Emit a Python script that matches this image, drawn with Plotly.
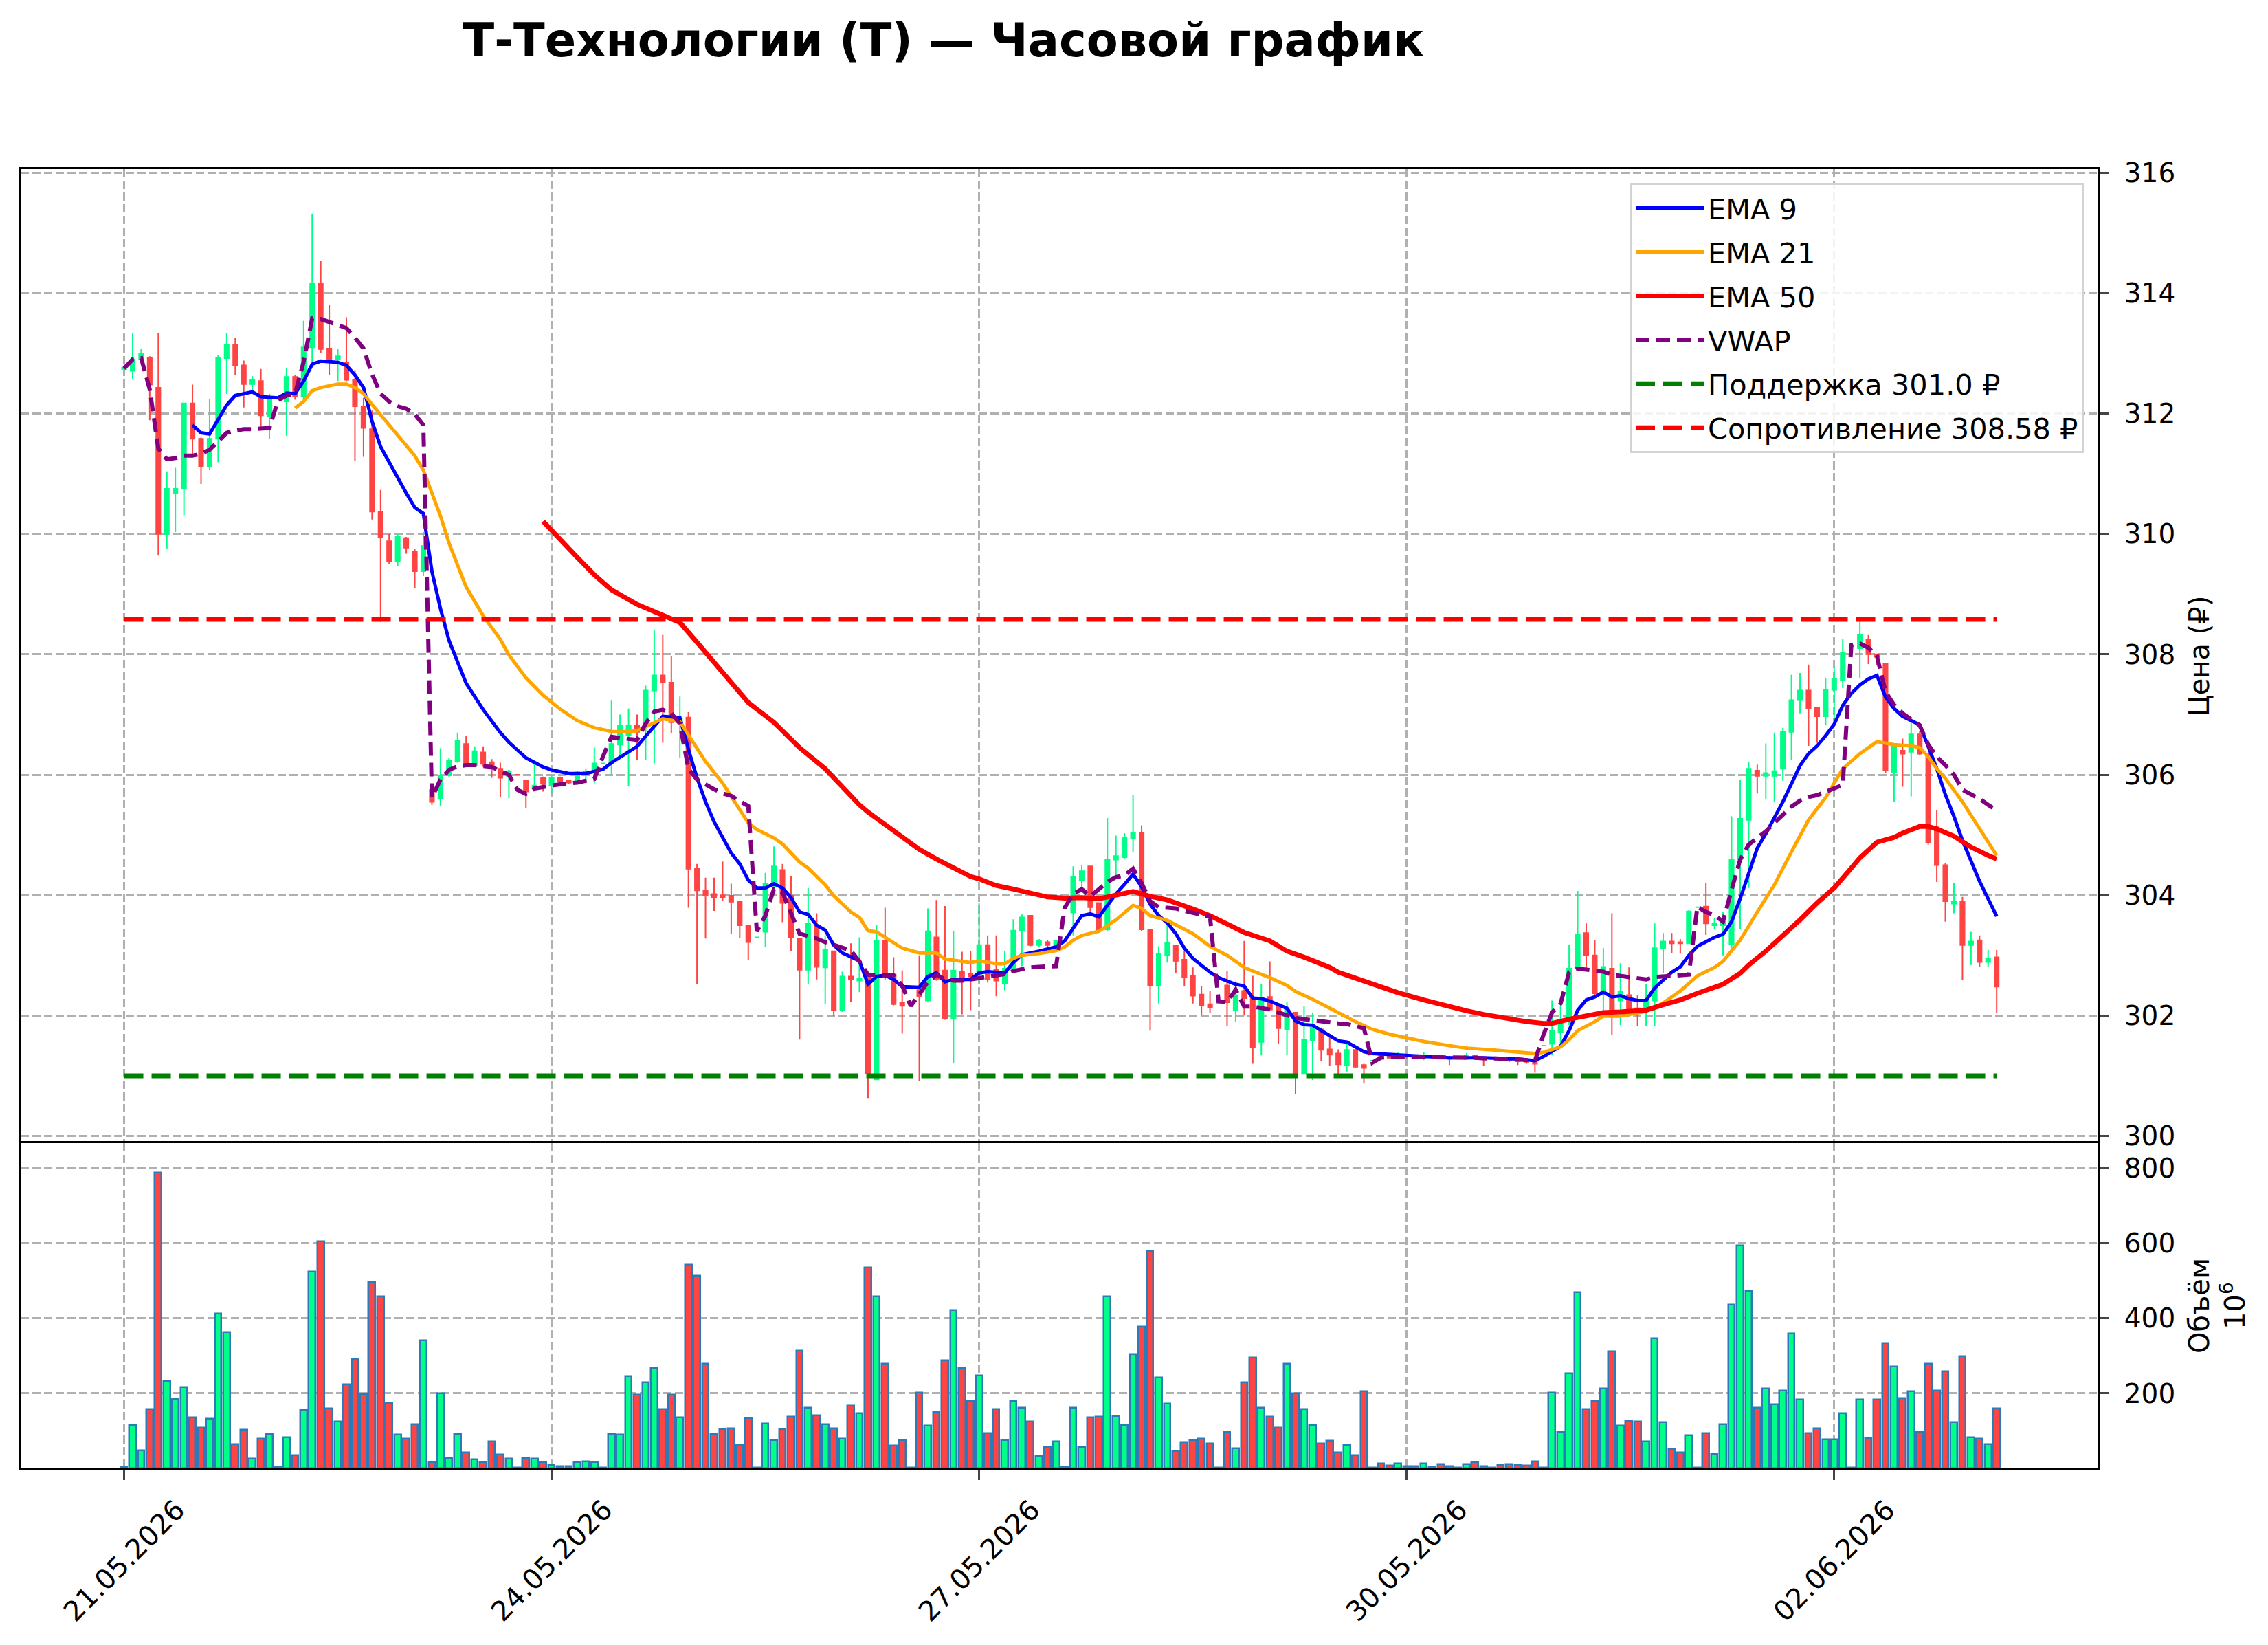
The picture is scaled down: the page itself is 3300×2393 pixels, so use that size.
import plotly.graph_objects as go

# ---------------- data ----------------
tick_idx = [0, 50, 100, 150, 200]
tick_text = ["21.05.2026", "24.05.2026", "27.05.2026", "30.05.2026", "02.06.2026"]

open_ = [
    312.74, 312.71, 312.90, 312.92, 312.43, 310.00, 310.67, 310.75, 312.17, 311.58,
    311.12, 311.58, 312.92, 313.14, 312.80, 312.49, 312.54, 311.95, 312.25, 312.20,
    312.61, 312.28, 313.10, 314.16, 313.08, 312.90, 312.85, 312.56, 312.12, 311.74,
    310.37, 309.88, 309.54, 309.93, 309.70, 309.38, 305.75, 305.60, 305.99, 306.23,
    306.51, 306.16, 306.37, 306.21, 306.10, 305.98, 306.00, 305.90, 305.77, 305.95,
    305.82, 305.95, 305.90, 305.89, 306.00, 306.06, 306.19, 306.19, 306.50, 306.65,
    306.81, 306.81, 307.40, 307.65, 307.53, 306.87, 306.95, 304.44, 304.08, 304.02,
    304.00, 303.99, 303.89, 303.50, 303.30, 303.39, 304.19, 304.42, 303.99, 303.27,
    302.76, 303.50, 302.80, 303.07, 302.09, 302.65, 302.58, 302.68, 300.94, 303.24,
    302.68, 302.21, 302.16, 302.42, 302.25, 303.30, 302.75, 301.95, 302.73, 302.70,
    302.68, 303.17, 302.76, 302.54, 302.78, 303.41, 303.66, 303.17, 303.22, 303.15,
    303.80, 303.71, 304.25, 304.48, 303.87, 303.43, 304.59, 304.63, 304.94, 305.03,
    303.43, 302.50, 303.00, 303.16, 302.93, 302.66, 302.35, 302.19, 302.20, 302.50,
    302.09, 302.41, 302.29, 301.56, 302.31, 302.19, 301.77, 302.05, 301.03, 301.58,
    301.77, 301.44, 301.37, 301.18, 301.43, 301.18, 301.25, 301.35, 301.32, 301.30,
    301.34, 301.33, 301.29, 301.32, 301.33, 301.31, 301.29, 301.28, 301.33, 301.30,
    301.28, 301.30, 301.28, 301.27, 301.26, 301.27, 301.50, 301.53, 301.72, 301.96,
    302.80, 303.37, 303.00, 302.37, 302.78, 302.25, 302.34, 302.12, 302.08, 302.25,
    303.12, 303.23, 303.22, 303.20, 303.80, 303.81, 303.50, 303.50, 303.18, 304.60,
    305.25, 306.07, 305.98, 305.98, 306.10, 306.71, 307.24, 307.40, 307.11, 306.97,
    307.41, 307.57, 308.15, 308.10, 308.24, 308.00, 307.85, 306.04, 306.40, 306.38,
    306.67, 306.35, 305.13, 304.50, 303.86, 303.90, 303.17, 303.25, 302.89, 302.97,
]
high = [
    312.80, 313.33, 313.07, 312.95, 313.33, 311.04, 311.10, 312.18, 312.48, 311.60,
    312.24, 312.97, 313.33, 313.26, 312.88, 312.62, 312.74, 312.33, 312.25, 312.76,
    312.64, 313.54, 315.32, 314.53, 313.80, 313.08, 313.60, 312.72, 312.26, 312.05,
    310.73, 310.00, 310.00, 309.95, 309.75, 310.03, 305.80, 306.44, 306.28, 306.70,
    306.64, 306.47, 306.47, 306.26, 306.20, 306.08, 306.00, 305.90, 306.18, 305.97,
    305.99, 305.97, 305.92, 306.07, 306.10, 306.45, 306.19, 307.23, 307.00, 307.10,
    307.00, 307.48, 308.40, 308.32, 307.97, 307.30, 307.04, 304.52, 304.29, 304.29,
    304.56, 304.19, 303.90, 303.50, 303.30, 304.37, 304.81, 304.52, 304.32, 303.27,
    304.12, 303.70, 303.33, 303.07, 302.73, 303.20, 303.30, 302.68, 303.50, 303.79,
    302.97, 302.75, 302.16, 303.00, 303.78, 303.92, 303.82, 303.40, 303.06, 303.07,
    303.87, 303.33, 303.33, 303.07, 303.60, 303.68, 303.67, 303.27, 303.25, 303.26,
    303.80, 304.48, 304.50, 304.48, 303.88, 305.28, 304.99, 305.03, 305.66, 305.16,
    303.43, 303.15, 303.56, 303.16, 303.07, 302.80, 302.49, 302.41, 302.20, 302.74,
    302.57, 303.24, 302.66, 302.53, 302.90, 302.19, 302.22, 302.05, 302.16, 302.05,
    301.80, 301.65, 301.44, 301.58, 301.44, 301.20, 301.25, 301.38, 301.34, 301.40,
    301.36, 301.35, 301.40, 301.32, 301.35, 301.33, 301.29, 301.38, 301.35, 301.32,
    301.28, 301.31, 301.30, 301.29, 301.28, 301.30, 301.50, 302.25, 302.17, 303.17,
    304.07, 303.53, 303.25, 303.12, 303.70, 302.87, 302.80, 302.34, 302.53, 303.53,
    303.37, 303.37, 303.27, 303.75, 303.80, 304.20, 303.62, 303.72, 305.31, 305.91,
    306.21, 306.17, 306.52, 306.70, 306.78, 307.66, 307.69, 307.83, 307.11, 307.60,
    307.79, 308.26, 308.15, 308.55, 308.32, 308.00, 307.85, 306.50, 306.60, 306.88,
    306.73, 306.35, 305.41, 304.54, 304.20, 303.97, 303.39, 303.33, 303.09, 303.09,
]
low = [
    312.72, 312.57, 312.88, 311.89, 309.64, 309.75, 310.03, 310.31, 311.33, 310.83,
    311.06, 311.19, 312.33, 312.64, 312.10, 312.38, 311.76, 311.58, 312.25, 311.63,
    312.23, 312.23, 312.85, 313.00, 312.64, 312.54, 312.54, 311.21, 311.28, 310.24,
    308.54, 309.50, 309.47, 309.67, 309.10, 309.30, 305.50, 305.48, 305.97, 306.20,
    306.13, 306.13, 306.13, 305.95, 305.63, 305.61, 306.00, 305.44, 305.72, 305.72,
    305.68, 305.86, 305.85, 305.87, 305.87, 305.86, 306.19, 305.99, 306.28, 305.81,
    306.25, 306.25, 306.19, 306.53, 306.69, 306.28, 303.79, 302.52, 303.28, 303.74,
    303.91, 303.35, 303.29, 302.93, 303.30, 303.14, 304.02, 303.55, 303.07, 301.60,
    302.52, 302.60, 302.19, 301.99, 302.06, 302.22, 302.39, 300.62, 300.94, 302.60,
    302.17, 301.70, 302.16, 300.91, 302.22, 302.58, 301.93, 301.21, 302.02, 302.09,
    302.55, 302.55, 302.32, 302.42, 302.75, 302.82, 303.15, 303.14, 303.07, 303.06,
    303.80, 303.33, 304.13, 303.71, 303.40, 303.40, 304.30, 304.61, 304.71, 303.40,
    301.75, 302.20, 302.88, 302.71, 302.49, 302.20, 302.00, 302.05, 302.20, 301.83,
    301.90, 302.00, 301.20, 301.34, 302.08, 301.53, 301.34, 300.70, 301.03, 300.93,
    301.25, 301.16, 301.03, 301.07, 301.13, 300.87, 301.25, 301.28, 301.28, 301.27,
    301.29, 301.28, 301.26, 301.32, 301.28, 301.18, 301.29, 301.27, 301.27, 301.17,
    301.28, 301.24, 301.23, 301.18, 301.20, 301.05, 301.50, 301.34, 301.53, 301.84,
    302.78, 302.78, 302.34, 302.06, 301.68, 301.84, 302.01, 301.83, 301.83, 301.83,
    302.71, 303.04, 303.03, 303.20, 303.80, 303.34, 303.44, 303.00, 303.12, 303.44,
    304.12, 305.69, 305.60, 305.55, 305.90, 306.25, 307.02, 306.48, 306.53, 306.82,
    306.93, 307.44, 308.15, 307.60, 307.84, 307.82, 306.03, 305.55, 305.80, 305.64,
    306.32, 304.84, 304.22, 303.56, 303.70, 302.59, 302.84, 302.81, 302.81, 302.04,
]
close = [
    312.76, 312.90, 313.00, 312.48, 310.00, 310.75, 310.75, 312.17, 311.58, 311.12,
    311.58, 312.92, 313.14, 312.80, 312.49, 312.56, 311.97, 312.25, 312.25, 312.61,
    312.28, 313.10, 314.16, 313.07, 312.90, 312.95, 312.56, 312.12, 311.76, 310.37,
    309.95, 309.54, 309.95, 309.77, 309.38, 309.80, 305.55, 305.99, 306.23, 306.57,
    306.16, 306.39, 306.18, 306.10, 305.95, 306.06, 306.00, 305.72, 305.82, 305.85,
    305.95, 305.89, 305.87, 306.04, 306.05, 306.19, 306.19, 306.51, 306.81, 306.82,
    306.71, 307.40, 307.65, 307.54, 306.87, 306.93, 304.44, 304.08, 303.99, 303.96,
    303.96, 303.89, 303.50, 303.22, 303.30, 304.19, 304.48, 303.87, 303.30, 302.76,
    303.53, 302.81, 303.10, 302.09, 302.65, 302.60, 302.62, 301.04, 303.24, 302.68,
    302.19, 302.16, 302.16, 302.32, 303.40, 302.60, 301.95, 302.75, 302.58, 302.65,
    303.17, 302.60, 302.58, 302.78, 303.41, 303.63, 303.17, 303.24, 303.17, 303.24,
    303.80, 304.30, 304.40, 303.80, 303.43, 304.59, 304.65, 304.95, 305.03, 303.43,
    302.50, 303.02, 303.21, 302.91, 302.64, 302.33, 302.17, 302.14, 302.20, 302.22,
    302.34, 302.29, 301.48, 302.29, 302.10, 301.79, 302.10, 301.03, 301.60, 301.80,
    301.43, 301.35, 301.19, 301.43, 301.15, 301.13, 301.25, 301.30, 301.30, 301.35,
    301.32, 301.30, 301.34, 301.32, 301.30, 301.28, 301.29, 301.33, 301.29, 301.27,
    301.28, 301.26, 301.25, 301.24, 301.23, 301.20, 301.50, 301.74, 301.90, 302.78,
    303.34, 303.00, 302.37, 302.81, 302.09, 302.40, 302.09, 302.08, 302.25, 303.12,
    303.23, 303.20, 303.20, 303.73, 303.80, 303.53, 303.53, 303.56, 304.59, 305.27,
    306.10, 305.98, 306.03, 306.06, 306.71, 307.24, 307.40, 307.10, 306.97, 307.41,
    307.59, 308.03, 308.15, 308.32, 308.00, 307.96, 306.07, 306.47, 306.35, 306.67,
    306.35, 304.88, 304.50, 303.90, 303.90, 303.17, 303.23, 302.89, 302.95, 302.48,
]
volume_mln = [
    3, 116, 48, 157, 788, 233, 186, 217, 136, 108,
    132, 413, 363, 65, 102, 26, 79, 91, 3, 83,
    34, 155, 524, 604, 159, 124, 223, 292, 198, 496,
    459, 175, 89, 79, 118, 341, 17, 199, 28, 91,
    42, 23, 16, 72, 37, 25, 2, 28, 25, 16,
    10, 6, 6, 16, 18, 16, 2, 91, 89, 245,
    196, 230, 267, 157, 196, 135, 542, 513, 278, 92,
    105, 106, 63, 133, 2, 119, 75, 105, 137, 314,
    161, 141, 117, 106, 79, 166, 146, 535, 459, 278,
    61, 76, 2, 201, 113, 151, 287, 421, 267, 180,
    247, 94, 158, 76, 180, 162, 125, 33, 57, 72,
    3, 162, 56, 136, 138, 458, 140, 116, 305, 378,
    580, 242, 173, 45, 70, 76, 79, 66, 2, 97,
    53, 230, 295, 162, 138, 109, 279, 199, 158, 116,
    66, 74, 42, 63, 34, 206, 1, 13, 7, 13,
    6, 6, 13, 3, 11, 6, 1, 11, 17, 5,
    2, 9, 11, 9, 8, 19, 1, 201, 97, 253,
    469, 158, 179, 212, 311, 113, 127, 124, 72, 346,
    122, 51, 42, 88, 1, 94, 39, 118, 437, 593,
    473, 161, 213, 171, 207, 360, 184, 94, 106, 77,
    77, 146, 1, 183, 81, 183, 334, 272, 187, 206,
    97, 279, 207, 258, 123, 299, 82, 79, 64, 160,
]
vwap = [
    312.75, 312.90, 312.92, 312.40, 311.42, 311.24, 311.26, 311.30, 311.30, 311.33,
    311.40, 311.55, 311.68, 311.72, 311.74, 311.74, 311.75, 311.76, 312.22, 312.30,
    312.33, 312.86, 313.58, 313.57, 313.52, 313.47, 313.42, 313.26, 313.08, 312.65,
    312.33, 312.20, 312.12, 312.08, 311.99, 311.81, 305.62, 305.92, 306.08, 306.14,
    306.16, 306.16, 306.15, 306.13, 306.06, 306.00, 305.75, 305.68, 305.77, 305.80,
    305.82, 305.84, 305.85, 305.87, 305.90, 305.93, 306.30, 306.63, 306.61, 306.59,
    306.58, 306.85, 307.05, 307.08, 307.02, 306.85, 306.10, 305.92, 305.83, 305.76,
    305.69, 305.65, 305.56, 305.48, 303.40, 303.66, 304.10, 304.05, 303.70, 303.36,
    303.32, 303.28, 303.22, 303.17, 303.12, 303.08, 302.90, 302.68, 302.67, 302.67,
    302.67, 302.50, 302.16, 302.35, 302.56, 302.68, 302.60, 302.58, 302.58, 302.60,
    302.62, 302.65, 302.67, 302.69, 302.74, 302.77, 302.80, 302.81, 302.82, 302.82,
    303.79, 304.02, 304.10, 303.98, 304.10, 304.22, 304.30, 304.33, 304.44, 304.20,
    303.90, 303.80, 303.79, 303.78, 303.74, 303.71, 303.68, 303.64, 302.24, 302.22,
    302.43, 302.15, 302.15, 302.12, 302.10, 302.05, 302.00, 301.96, 301.94, 301.92,
    301.90, 301.88, 301.87, 301.86, 301.82, 301.79, 301.22, 301.30, 301.31, 301.32,
    301.32, 301.31, 301.31, 301.31, 301.31, 301.30, 301.30, 301.30, 301.30, 301.29,
    301.29, 301.29, 301.28, 301.27, 301.26, 301.25, 301.68, 302.05, 302.20, 302.72,
    302.78, 302.76, 302.75, 302.73, 302.68, 302.66, 302.63, 302.61, 302.60, 302.64,
    302.65, 302.66, 302.67, 302.68, 303.81, 303.72, 303.67, 303.56, 304.09, 304.59,
    304.84, 304.95, 305.06, 305.20, 305.33, 305.47, 305.57, 305.63, 305.66, 305.72,
    305.77, 305.83, 308.15, 308.18, 308.11, 307.97, 307.38, 307.16, 307.02, 306.91,
    306.82, 306.50, 306.30, 306.16, 306.00, 305.75, 305.68, 305.60, 305.50, 305.41,
]

ema9_x = [8, 9, 10, 11, 12, 13, 15, 16, 18, 19, 20, 21, 22, 23, 25, 26, 27, 28, 29, 30,
          31, 32, 33, 34, 35, 36, 37, 38, 39, 40, 41, 42, 44, 45, 47, 49, 50, 52, 54, 56,
          57, 59, 60, 61, 62, 63, 64, 65, 66, 67, 68, 69, 70, 71, 72, 73, 74, 75, 76, 77,
          78, 79, 80, 81, 82, 83, 84, 85, 86, 87, 88, 89, 90, 91, 92, 93, 94, 95, 96, 97,
          99, 100, 101, 103, 104, 105, 107, 109, 110, 111, 112, 113, 114, 115, 116, 117, 118, 119, 120, 121,
          122, 123, 124, 125, 126, 127, 128, 129, 130, 131, 132, 133, 134, 135, 136, 137, 138, 139, 140, 141,
          142, 143, 144, 145, 146, 147, 149, 151, 155, 159, 163, 165, 166, 167, 168, 169, 170, 171, 172, 173,
          174, 175, 176, 177, 178, 179, 180, 181, 182, 183, 184, 185, 186, 187, 188, 189, 190, 191, 192, 193,
          194, 195, 196, 197, 198, 199, 200, 201, 202, 203, 204, 205, 206, 207, 208, 209, 210, 211, 212, 213,
          214, 215, 216, 217, 218, 219]
ema9_y = [311.81, 311.68, 311.66, 311.89, 312.14, 312.30, 312.36, 312.28, 312.26, 312.34,
          312.33, 312.54, 312.82, 312.87, 312.85, 312.80, 312.64, 312.43, 311.87, 311.45,
          311.19, 310.93, 310.68, 310.44, 310.34, 309.38, 308.76, 308.23, 307.89, 307.52,
          307.30, 307.08, 306.70, 306.54, 306.28, 306.13, 306.08, 306.02, 306.02, 306.09,
          306.20, 306.38, 306.47, 306.64, 306.80, 306.97, 306.96, 306.95, 306.42, 305.95,
          305.55, 305.22, 304.96, 304.70, 304.52, 304.25, 304.12, 304.12, 304.19, 304.12,
          303.96, 303.72, 303.68, 303.50, 303.42, 303.17, 303.04, 302.97, 302.91, 302.52,
          302.65, 302.67, 302.60, 302.48, 302.48, 302.47, 302.65, 302.71, 302.56, 302.60,
          302.60, 302.71, 302.73, 302.71, 302.88, 303.01, 303.07, 303.14, 303.24, 303.46,
          303.66, 303.69, 303.64, 303.83, 304.02, 304.18, 304.35, 304.14, 303.85, 303.66,
          303.54, 303.36, 303.12, 302.95, 302.83, 302.72, 302.63, 302.57, 302.52, 302.49,
          302.29, 302.28, 302.24, 302.18, 302.12, 301.91, 301.85, 301.84, 301.75, 301.67,
          301.58, 301.56, 301.48, 301.40, 301.37, 301.36, 301.35, 301.33, 301.30, 301.30,
          301.28, 301.25, 301.32, 301.40, 301.49, 301.75, 302.09, 302.26, 302.31, 302.39,
          302.31, 302.33, 302.28, 302.25, 302.25, 302.46, 302.60, 302.72, 302.81, 303.00,
          303.15, 303.22, 303.30, 303.35, 303.56, 303.94, 304.36, 304.78, 305.02, 305.28,
          305.55, 305.85, 306.15, 306.35, 306.48, 306.65, 306.84, 307.15, 307.35, 307.49,
          307.59, 307.65, 307.29, 307.10, 306.97, 306.90, 306.83, 306.47, 306.10, 305.67,
          305.31, 304.91, 304.56, 304.23, 303.94, 303.65]

ema21_x = [20, 21, 22, 23, 25, 26, 27, 28, 29, 30, 31, 32, 33, 34, 35, 36, 37, 38, 39, 40,
           42, 44, 45, 47, 49, 51, 53, 55, 57, 58, 60, 62, 63, 65, 66, 67, 68, 70, 72, 73,
           74, 76, 77, 79, 80, 82, 83, 85, 86, 87, 88, 90, 91, 93, 95, 96, 99, 100, 102, 103,
           104, 105, 107, 109, 110, 111, 112, 114, 116, 118, 119, 120, 122, 125, 127, 129, 131, 132, 134, 136,
           137, 139, 141, 142, 144, 146, 148, 150, 152, 155, 157, 160, 163, 165, 166, 168, 169, 170, 172, 173,
           175, 178, 180, 182, 184, 186, 187, 189, 191, 193, 195, 197, 199, 201, 203, 205, 207, 209, 210, 211,
           212, 213, 215, 217, 219]
ema21_y = [312.09, 312.20, 312.38, 312.43, 312.49, 312.49, 312.43, 312.33, 312.15, 311.98,
           311.80, 311.63, 311.45, 311.30, 311.06, 310.68, 310.30, 309.85, 309.50, 309.12,
           308.64, 308.25, 307.99, 307.61, 307.32, 307.09, 306.90, 306.78, 306.72, 306.71,
           306.73, 306.86, 306.93, 306.88, 306.66, 306.43, 306.22, 305.86, 305.43, 305.20,
           305.09, 304.95, 304.85, 304.55, 304.45, 304.17, 303.99, 303.72, 303.63, 303.41,
           303.39, 303.20, 303.12, 303.04, 303.04, 302.94, 302.88, 302.91, 302.86, 302.86,
           302.95, 303.00, 303.03, 303.08, 303.14, 303.25, 303.33, 303.40, 303.59, 303.83,
           303.78, 303.66, 303.58, 303.36, 303.15, 303.00, 302.80, 302.74, 302.63, 302.50,
           302.40, 302.27, 302.13, 302.05, 301.90, 301.77, 301.69, 301.63, 301.57, 301.50,
           301.46, 301.43, 301.39, 301.37, 301.39, 301.48, 301.60, 301.75, 301.90, 301.99,
           301.99, 302.07, 302.21, 302.41, 302.66, 302.80, 302.90, 303.25, 303.72, 304.17,
           304.72, 305.25, 305.62, 306.10, 306.35, 306.55, 306.50, 306.48, 306.45, 306.30,
           306.10, 305.94, 305.55, 305.10, 304.66]

ema50_x = [49, 51, 53, 55, 57, 60, 63, 65, 67, 70, 73, 76, 79, 82, 84, 86, 87, 89, 91, 93,
           95, 97, 99, 100, 102, 104, 106, 108, 110, 112, 114, 116, 118, 120, 122, 125, 127, 129, 131, 134,
           136, 138, 141, 142, 144, 147, 149, 152, 154, 157, 159, 162, 164, 166, 167, 169, 171, 173, 175, 178,
           180, 182, 184, 187, 189, 190, 192, 194, 196, 198, 200, 202, 203, 205, 207, 208, 210, 211, 212, 214,
           216, 218, 219]
ema50_y = [310.21, 309.90, 309.61, 309.32, 309.07, 308.83, 308.66, 308.53, 308.20, 307.70,
           307.20, 306.87, 306.45, 306.10, 305.79, 305.50, 305.38, 305.18, 304.96, 304.76,
           304.60, 304.45, 304.31, 304.27, 304.16, 304.10, 304.04, 303.97, 303.95, 303.96,
           303.94, 303.99, 304.06, 303.98, 303.92, 303.77, 303.66, 303.52, 303.38, 303.24,
           303.07, 302.97, 302.80, 302.72, 302.62, 302.47, 302.38, 302.26, 302.18, 302.08,
           302.02, 301.94, 301.90, 301.87, 301.87, 301.94, 302.00, 302.05, 302.06, 302.09,
           302.18, 302.26, 302.37, 302.52, 302.70, 302.84, 303.07, 303.32, 303.59, 303.87,
           304.12, 304.45, 304.62, 304.88, 304.96, 305.03, 305.14, 305.14, 305.10, 304.98,
           304.80, 304.66, 304.60]

support_level = 301.0
resistance_level = 308.58

# ---------------- styling ----------------
GREEN = "#00ff88"
RED = "#ff4444"
FONT = "DejaVu Sans"
W, H = 3300, 2393
X0, X1 = 30 / W, 3052 / W
P_TOP, P_BOT = 1 - 246 / H, 1 - 1663 / H
V_TOP, V_BOT = 1 - 1663 / H, 1 - 2136 / H
XR = [-12.1, 230.8]
GRID = "#b0b0b0"

idx = list(range(len(close)))
vol_colors = [GREEN if c >= o else RED for o, c in zip(open_, close)]

fig = go.Figure()

fig.add_trace(go.Candlestick(
    x=idx, open=open_, high=high, low=low, close=close,
    increasing=dict(line=dict(color=GREEN, width=2), fillcolor=GREEN),
    decreasing=dict(line=dict(color=RED, width=2), fillcolor=RED),
    whiskerwidth=0, showlegend=False, hoverinfo="skip",
    xaxis="x", yaxis="y",
))

line_traces = [
    ("EMA 9", ema9_x, ema9_y, dict(color="#0000ff", width=5)),
    ("EMA 21", ema21_x, ema21_y, dict(color="#ffa500", width=5)),
    ("EMA 50", ema50_x, ema50_y, dict(color="#ff0000", width=7)),
    ("VWAP", idx, vwap, dict(color="#800080", width=6, dash="20px,10px")),
    (f"Поддержка {support_level} ₽", [idx[0], idx[-1]], [support_level, support_level],
     dict(color="#008000", width=7, dash="28px,12px")),
    (f"Сопротивление {resistance_level} ₽", [idx[0], idx[-1]], [resistance_level, resistance_level],
     dict(color="#ff0000", width=7, dash="28px,12px")),
]
for k, (name, xs, ys, ln) in enumerate(line_traces):
    fig.add_trace(go.Scatter(x=xs, y=ys, mode="lines", name=name, line=ln,
                             legendgroup=f"g{k}", hoverinfo="skip"))

fig.add_trace(go.Bar(
    x=idx, y=volume_mln, width=0.78, showlegend=False, hoverinfo="skip",
    marker=dict(color=vol_colors, line=dict(color="#2b7bb9", width=2.5)),
    xaxis="x2", yaxis="y2",
))

grid_common = dict(showgrid=True, gridcolor=GRID, gridwidth=2.5, griddash="12px,5px",
                   zeroline=False, automargin=False)
frame = dict(linecolor="black", linewidth=3)

# rotated, centred date labels under the volume panel
for t, lab in zip(tick_idx, tick_text):
    fig.add_annotation(x=t, xref="x2", y=1 - 2170 / H, yref="paper",
                       text=lab, textangle=-45, showarrow=False,
                       xanchor="center", yanchor="top",
                       font=dict(family=FONT, size=40, color="black"))

fig.update_layout(
    width=W, height=H, autosize=False,
    margin=dict(l=0, r=0, t=0, b=0, autoexpand=False),
    paper_bgcolor="white", plot_bgcolor="white",
    font=dict(family=FONT, size=39, color="black"),
    title=dict(text="<b>Т-Технологии (Т) — Часовой график</b>",
               x=1373 / W, xanchor="center", y=1 - 59 / H, yanchor="middle",
               yref="container", xref="paper",
               font=dict(family=FONT, size=67, color="black")),
    showlegend=True,
    legend=dict(x=3032 / W, xanchor="right", y=1 - 266 / H, yanchor="top",
                bgcolor="rgba(255,255,255,0.85)", bordercolor="#d3d3d3", borderwidth=3,
                font=dict(family=FONT, size=41.5), tracegroupgap=7, itemwidth=100),
    bargap=0,
    xaxis=dict(domain=[X0, X1], range=XR, anchor="y", tickvals=tick_idx, side="top",
               showticklabels=False, ticks="", rangeslider=dict(visible=False),
               showline=True, mirror=False, **frame, **grid_common),
    yaxis=dict(domain=[P_BOT, P_TOP], range=[299.88, 316.06], anchor="x", side="right",
               tickvals=list(range(300, 317, 2)), ticks="outside", ticklen=14, tickwidth=3,
               ticklabelstandoff=14, showline=True, mirror=True, **frame,
               title=dict(text="Цена (₽)", standoff=22, font=dict(size=40)), **grid_common),
    xaxis2=dict(domain=[X0, X1], range=XR, anchor="y2", matches="x", tickvals=tick_idx,
                showticklabels=False, ticks="outside", ticklen=14, tickwidth=3,
                showline=True, mirror=True, **frame, **grid_common),
    yaxis2=dict(domain=[V_BOT, V_TOP], range=[0, 867], anchor="x2", side="right",
                tickvals=[200, 400, 600, 800], ticks="outside", ticklen=14, tickwidth=3,
                ticklabelstandoff=14, showline=True, mirror=True, **frame,
                title=dict(text="Объём<br>10<sup>6</sup>", standoff=22, font=dict(size=40)),
                **grid_common),
)

fig.write_html("out.html")
